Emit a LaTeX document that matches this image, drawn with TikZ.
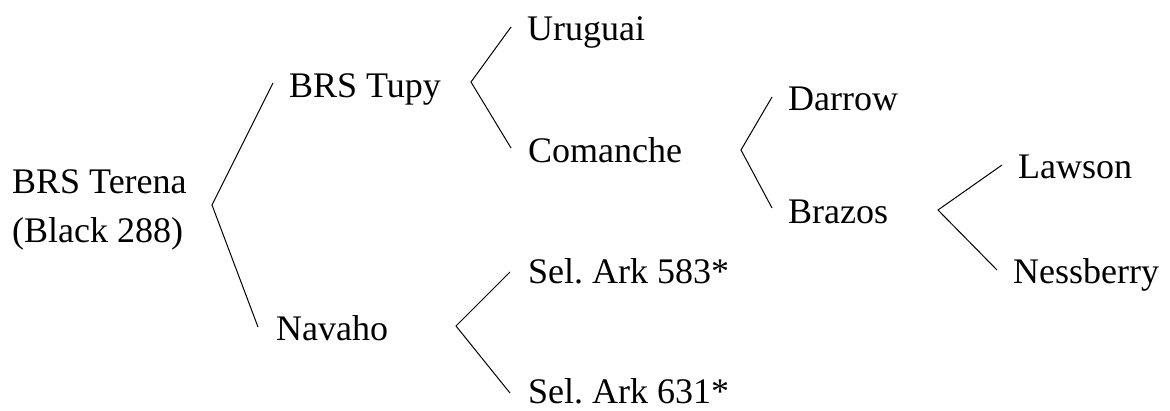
\documentclass[tikz,border=0pt]{standalone}
\usepackage{fontspec}
\setmainfont{Liberation Serif}
\frenchspacing
\begin{document}
\begin{tikzpicture}[x=1pt,y=-1pt,
  cultivar/.style={inner sep=0pt,anchor=base west,font=\fontsize{36}{49}\selectfont},
  branch/.style={line width=1pt,line join=miter}]
\useasboundingbox (0,0) rectangle (1170,410);

% cultivar names (the two-line node is anchored on its last baseline)
\node[cultivar,align=left] (terena) at (12,242) {BRS Terena\\(Black 288)};
\node[cultivar] (tupy)      at (289,97)  {BRS Tupy};
\node[cultivar] (navaho)    at (276,340) {Navaho};
\node[cultivar] (uruguai)   at (527,40)  {Uruguai};
\node[cultivar] (comanche)  at (528,162) {Comanche};
\node[cultivar] (ark583)    at (528,283) {Sel. Ark 583*};
\node[cultivar] (ark631)    at (528,403) {Sel. Ark 631*};
\node[cultivar] (darrow)    at (788,110) {Darrow};
\node[cultivar] (brazos)    at (788,223) {Brazos};
\node[cultivar] (lawson)    at (1018,178) {Lawson};
\node[cultivar] (nessberry) at (1013,283) {Nessberry};

% bracket vertices and tips
\coordinate (v1) at (212,205);
\coordinate (v1a) at (273,83);
\coordinate (v1b) at (258,327);
\coordinate (v2) at (471,82);
\coordinate (v2a) at (511,27);
\coordinate (v2b) at (511,148);
\coordinate (v3) at (456,326);
\coordinate (v3a) at (510,272);
\coordinate (v3b) at (510,393);
\coordinate (v4) at (741,150);
\coordinate (v4a) at (772,97);
\coordinate (v4b) at (772,208);
\coordinate (v5) at (938,210);
\coordinate (v5a) at (1002,165);
\coordinate (v5b) at (997,270);

% brackets
\draw[branch] (v1a) -- (v1) -- (v1b);
\draw[branch] (v2a) -- (v2) -- (v2b);
\draw[branch] (v3a) -- (v3) -- (v3b);
\draw[branch] (v4a) -- (v4) -- (v4b);
\draw[branch] (v5a) -- (v5) -- (v5b);
\end{tikzpicture}
\end{document}
